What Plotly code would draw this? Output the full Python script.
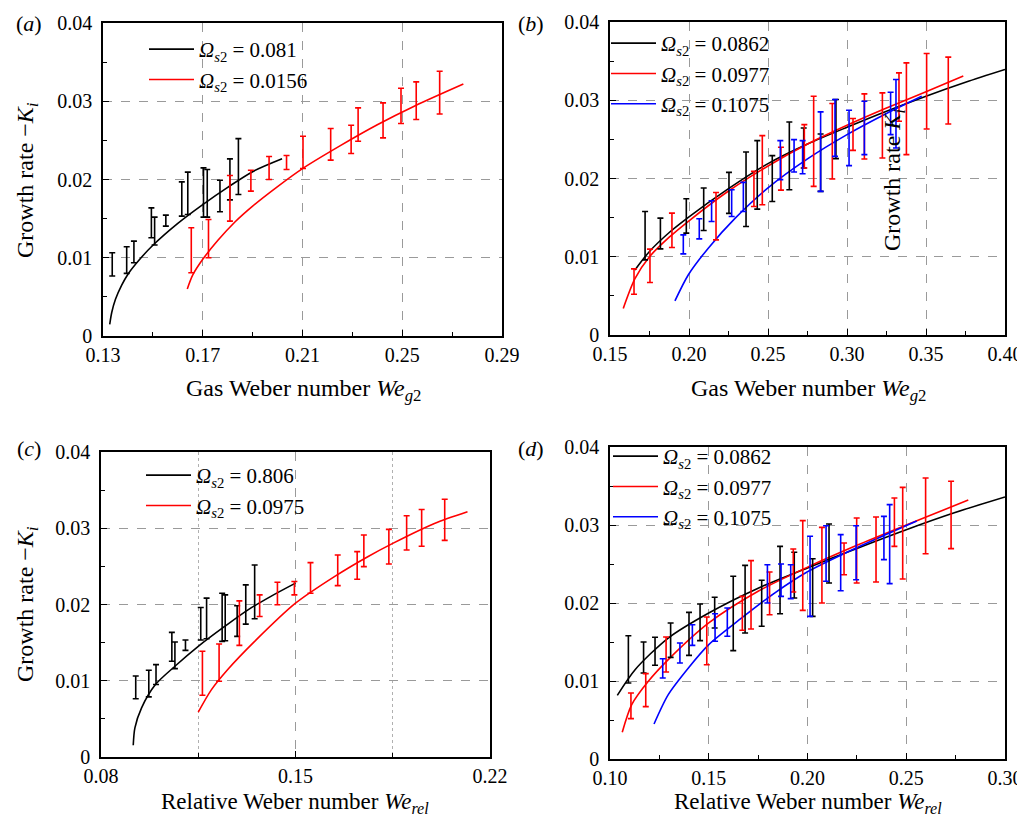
import numpy as np
import plotly.graph_objects as go

FONT = "Liberation Serif, Times New Roman, Tinos, serif"
BLACK, RED, BLUE = "#000000", "#ff0000", "#0000ff"

# ---------------- Panel (a): Gas Weber number, two series ----------------
a_blk_x  = [0.1337, 0.1395, 0.1424, 0.1494, 0.1507, 0.1552, 0.1616, 0.1640, 0.1703, 0.1718, 0.1769, 0.1809, 0.1843]
a_blk_hi = [0.01064, 0.0114, 0.01213, 0.01638, 0.01519, 0.01545, 0.0197, 0.02094, 0.02149, 0.02128, 0.01991, 0.02264, 0.02523]
a_blk_lo = [0.00766, 0.0080, 0.00936, 0.01255, 0.01162, 0.01404, 0.01532, 0.01553, 0.01519, 0.01519, 0.01587, 0.0174, 0.01809]
a_red_x  = [0.1654, 0.1723, 0.1809, 0.1893, 0.1966, 0.2036, 0.2102, 0.2213, 0.2295, 0.2323, 0.2423, 0.2495, 0.2556, 0.2650]
a_red_hi = [0.01383, 0.01489, 0.02051, 0.02119, 0.02294, 0.02306, 0.02553, 0.02651, 0.02694, 0.02915, 0.02979, 0.03166, 0.03247, 0.03383]
a_red_lo = [0.00809, 0.0100, 0.01468, 0.01851, 0.0200, 0.02128, 0.0214, 0.02247, 0.02332, 0.02489, 0.02532, 0.02715, 0.02766, 0.02838]
a_blk_fit_x = [0.1327, 0.1335, 0.1350, 0.1375, 0.1400, 0.1450, 0.1500, 0.1600, 0.1700, 0.1800, 0.1900, 0.2018]
a_blk_fit_y = [0.0015, 0.0030, 0.0047, 0.0065, 0.0079, 0.0099, 0.0116, 0.0144, 0.0168, 0.0190, 0.0210, 0.02264]
a_red_fit_x = [0.1638, 0.1660, 0.1700, 0.1760, 0.1830, 0.1900, 0.2000, 0.2100, 0.2250, 0.2400, 0.2550, 0.2745]
a_red_fit_y = [0.0060, 0.0078, 0.0098, 0.0122, 0.0146, 0.0166, 0.0191, 0.0214, 0.0243, 0.0270, 0.0294, 0.0322]
a_names = ["0.081", "0.0156"]

# ---------------- Panel (b): Gas Weber number, three series ----------------
b_blk_x  = [0.1722, 0.1819, 0.1983, 0.2093, 0.2253, 0.2361, 0.2432, 0.2527, 0.2635, 0.2726, 0.2833, 0.2930]
b_blk_hi = [0.01579, 0.01494, 0.01741, 0.01878, 0.02078, 0.02339, 0.02484, 0.02292, 0.02723, 0.02646, 0.02569, 0.03009]
b_blk_lo = [0.0096, 0.01101, 0.01302, 0.01336, 0.01554, 0.01387, 0.01609, 0.01707, 0.01857, 0.02134, 0.01835, 0.02254]
b_red_x  = [0.1652, 0.1753, 0.1892, 0.2171, 0.2411, 0.2464, 0.2582, 0.2730, 0.2789, 0.2907, 0.3038, 0.3110, 0.3224, 0.3329, 0.3376, 0.3504, 0.3641]
b_red_hi = [0.00845, 0.01097, 0.01558, 0.01822, 0.02091, 0.02548, 0.02399, 0.02689, 0.03052, 0.02958, 0.02766, 0.03082, 0.03094, 0.0335, 0.03478, 0.03598, 0.03551]
b_red_lo = [0.00521, 0.0067, 0.01118, 0.01216, 0.01643, 0.01665, 0.01852, 0.02134, 0.01899, 0.01993, 0.0236, 0.02249, 0.02262, 0.02732, 0.02305, 0.02633, 0.02697]
b_blu_x  = [0.1964, 0.2065, 0.2143, 0.2270, 0.2344, 0.2578, 0.2665, 0.2719, 0.2833, 0.2924, 0.3013, 0.3110, 0.3276, 0.3310]
b_blu_hi = [0.0128, 0.01485, 0.01716, 0.01857, 0.0195, 0.02484, 0.02497, 0.02484, 0.02851, 0.03009, 0.02872, 0.02988, 0.03103, 0.03265]
b_blu_lo = [0.01037, 0.01229, 0.01451, 0.01515, 0.01579, 0.01985, 0.02083, 0.02061, 0.01835, 0.02283, 0.02164, 0.02305, 0.02561, 0.0239]
b_blk_fit_x = [0.1658, 0.1750, 0.1875, 0.2000, 0.2250, 0.2500, 0.2750, 0.3000, 0.3250, 0.3500, 0.3750, 0.4000]
b_blk_fit_y = [0.00832, 0.01068, 0.01310, 0.0151, 0.0187, 0.0219, 0.0244, 0.02655, 0.0286, 0.03052, 0.0323, 0.03393]
b_red_fit_x = [0.1584, 0.1658, 0.1750, 0.1875, 0.2000, 0.2250, 0.2500, 0.2750, 0.3000, 0.3250, 0.3500, 0.3736]
b_red_fit_y = [0.0034, 0.0072, 0.0100, 0.0125, 0.0146, 0.0184, 0.0216, 0.0244, 0.0268, 0.0290, 0.0311, 0.0331]
b_blu_fit_x = [0.1911, 0.1996, 0.2122, 0.2291, 0.2500, 0.2750, 0.3000, 0.3250, 0.3473]
b_blu_fit_y = [0.00435, 0.0077, 0.0111, 0.0149, 0.0188, 0.0225, 0.0256, 0.0283, 0.0305]
b_names = ["0.0862", "0.0977", "0.1075"]

# ---------------- Panel (c): Relative Weber number, two series ----------------
c_blk_x  = [0.0925, 0.0972, 0.0998, 0.1055, 0.1066, 0.1104, 0.1159, 0.1180, 0.1236, 0.1247, 0.1290, 0.1321, 0.1353]
c_blk_hi = [0.01063, 0.01137, 0.01211, 0.01634, 0.01508, 0.01534, 0.01961, 0.02083, 0.02148, 0.02126, 0.01983, 0.02257, 0.02519]
c_blk_lo = [0.00763, 0.00789, 0.0095, 0.01255, 0.01159, 0.01399, 0.01534, 0.01551, 0.01516, 0.01525, 0.01582, 0.01743, 0.01813]
c_red_x  = [0.1165, 0.1225, 0.1298, 0.1371, 0.1435, 0.1496, 0.1554, 0.1652, 0.1722, 0.1746, 0.1836, 0.1900, 0.1954, 0.2037]
c_red_hi = [0.01386, 0.01481, 0.02048, 0.02126, 0.02292, 0.02301, 0.02549, 0.02649, 0.02693, 0.02911, 0.02985, 0.03163, 0.03246, 0.03381]
c_red_lo = [0.0081, 0.00993, 0.01464, 0.01843, 0.01996, 0.02126, 0.02148, 0.02248, 0.02331, 0.02497, 0.02532, 0.02715, 0.02763, 0.02841]
c_blk_fit_x = [0.0916, 0.0922, 0.0946, 0.0996, 0.1066, 0.1150, 0.1245, 0.1329, 0.1413, 0.1500]
c_blk_fit_y = [0.00153, 0.00383, 0.00645, 0.0095, 0.0119, 0.01451, 0.01712, 0.0193, 0.0211, 0.0228]
c_red_fit_x = [0.1150, 0.1197, 0.1257, 0.1353, 0.1500, 0.1640, 0.1760, 0.1850, 0.2000, 0.2119]
c_red_fit_y = [0.00588, 0.0088, 0.0115, 0.01516, 0.02017, 0.02366, 0.02627, 0.02802, 0.03063, 0.03216]
c_names = ["0.806", "0.0975"]

# ---------------- Panel (d): Relative Weber number, three series ----------------
d_blk_x  = [0.1093, 0.1170, 0.1228, 0.1307, 0.1400, 0.1456, 0.1530, 0.1624, 0.1684, 0.1768, 0.1861, 0.1933, 0.2026, 0.2109]
d_blk_hi = [0.01581, 0.015, 0.0156, 0.01744, 0.0188, 0.01987, 0.02073, 0.02342, 0.02483, 0.02291, 0.02726, 0.0265, 0.02568, 0.03013]
d_blk_lo = [0.00974, 0.01103, 0.01201, 0.01303, 0.01329, 0.01517, 0.01679, 0.01389, 0.01615, 0.01701, 0.01863, 0.02064, 0.01829, 0.02256]
d_red_x  = [0.1106, 0.1181, 0.1284, 0.1490, 0.1670, 0.1714, 0.1808, 0.1928, 0.1976, 0.2073, 0.2185, 0.2249, 0.2347, 0.2440, 0.2482, 0.2598, 0.2727]
d_red_hi = [0.00846, 0.01094, 0.01564, 0.0182, 0.02085, 0.02543, 0.02397, 0.02692, 0.03056, 0.0297, 0.02769, 0.0309, 0.03103, 0.03346, 0.03483, 0.03603, 0.0356]
d_red_lo = [0.00517, 0.00671, 0.01115, 0.01209, 0.0165, 0.01667, 0.0185, 0.02141, 0.01906, 0.02, 0.02363, 0.02256, 0.02269, 0.02726, 0.02308, 0.02632, 0.02697]
d_blu_x  = [0.1267, 0.1354, 0.1417, 0.1532, 0.1594, 0.1797, 0.1866, 0.1915, 0.2013, 0.2094, 0.2168, 0.2246, 0.2387, 0.2416]
d_blu_hi = [0.01286, 0.01487, 0.01722, 0.01863, 0.01936, 0.02491, 0.025, 0.02491, 0.02855, 0.02991, 0.02876, 0.02991, 0.03111, 0.03261]
d_blu_lo = [0.01038, 0.01231, 0.01457, 0.01509, 0.01573, 0.02, 0.02085, 0.02056, 0.01829, 0.02278, 0.02158, 0.02299, 0.02556, 0.02248]
d_blk_fit_x = [0.1037, 0.1127, 0.1295, 0.1500, 0.1750, 0.2000, 0.2250, 0.2500, 0.2747, 0.3000]
d_blk_fit_y = [0.00816, 0.01145, 0.01551, 0.01872, 0.0219, 0.0245, 0.0270, 0.0294, 0.0316, 0.0336]
d_red_fit_x = [0.1062, 0.1110, 0.1194, 0.1295, 0.1500, 0.1750, 0.2000, 0.2250, 0.2500, 0.2814]
d_red_fit_y = [0.00342, 0.00697, 0.00996, 0.01274, 0.01744, 0.0215, 0.0246, 0.0274, 0.0300, 0.0332]
d_blu_fit_x = [0.1223, 0.1295, 0.1397, 0.1500, 0.1667, 0.1835, 0.2000, 0.2250, 0.2409, 0.2553]
d_blu_fit_y = [0.00449, 0.00825, 0.01167, 0.01466, 0.01808, 0.0213, 0.0240, 0.0271, 0.0289, 0.0305]
d_names = ["0.0862", "0.0977", "0.1075"]

y_ticks = [0, 0.01, 0.02, 0.03, 0.04]

W, H = 1025, 817
def px_x(p): return p / W
def px_y(p): return 1 - p / H

fig = go.Figure()

def add_errbars(xs, lo, hi, color, ax):
    lo = np.array(lo); hi = np.array(hi)
    mid = (lo + hi) / 2
    half = (hi - lo) / 2
    fig.add_trace(go.Scatter(
        x=xs, y=mid, mode="markers", marker=dict(size=0.1, color=color),
        error_y=dict(type="data", array=half, visible=True, color=color, thickness=1.6, width=3),
        showlegend=False, xaxis="x" + ax, yaxis="y" + ax, hoverinfo="skip"))

def add_fit(xs, ys, color, name, ax, leg):
    fig.add_trace(go.Scatter(
        x=xs, y=ys, mode="lines", line=dict(color=color, width=1.6, shape="spline", smoothing=0.8),
        name="<i>Ω</i><sub><i>s</i>2</sub> = " + name, legend=leg, legendgroup=leg + name,
        xaxis="x" + ax, yaxis="y" + ax))

add_fit(a_blk_fit_x, a_blk_fit_y, BLACK, a_names[0], "", "legend")
add_fit(a_red_fit_x, a_red_fit_y, RED, a_names[1], "", "legend")
add_errbars(a_blk_x, a_blk_lo, a_blk_hi, BLACK, "")
add_errbars(a_red_x, a_red_lo, a_red_hi, RED, "")

add_fit(b_blk_fit_x, b_blk_fit_y, BLACK, b_names[0], "2", "legend2")
add_fit(b_red_fit_x, b_red_fit_y, RED, b_names[1], "2", "legend2")
add_fit(b_blu_fit_x, b_blu_fit_y, BLUE, b_names[2], "2", "legend2")
add_errbars(b_blk_x, b_blk_lo, b_blk_hi, BLACK, "2")
add_errbars(b_red_x, b_red_lo, b_red_hi, RED, "2")
add_errbars(b_blu_x, b_blu_lo, b_blu_hi, BLUE, "2")

add_fit(c_blk_fit_x, c_blk_fit_y, BLACK, c_names[0], "3", "legend3")
add_fit(c_red_fit_x, c_red_fit_y, RED, c_names[1], "3", "legend3")
add_errbars(c_blk_x, c_blk_lo, c_blk_hi, BLACK, "3")
add_errbars(c_red_x, c_red_lo, c_red_hi, RED, "3")

add_fit(d_blk_fit_x, d_blk_fit_y, BLACK, d_names[0], "4", "legend4")
add_fit(d_red_fit_x, d_red_fit_y, RED, d_names[1], "4", "legend4")
add_fit(d_blu_fit_x, d_blu_fit_y, BLUE, d_names[2], "4", "legend4")
add_errbars(d_blk_x, d_blk_lo, d_blk_hi, BLACK, "4")
add_errbars(d_red_x, d_red_lo, d_red_hi, RED, "4")
add_errbars(d_blu_x, d_blu_lo, d_blu_hi, BLUE, "4")

tickfont = dict(family=FONT, size=20, color="black")
def xaxis(domain, rng, tick0, dtick, mdtick, anchor, mgrid=False):
    return dict(domain=domain, range=rng, anchor=anchor, tick0=tick0, dtick=dtick, tickformat=".2f",
                showline=True, linecolor="black", linewidth=1.6, mirror=True,
                ticks="inside", ticklen=6, tickwidth=1, tickcolor="black",
                showgrid=True, gridcolor="#9a9a9a", griddash="dash", gridwidth=1,
                minor=dict(dtick=mdtick, tick0=tick0, ticks="inside", ticklen=4, tickcolor="black",
                           showgrid=mgrid, gridcolor="#b0b0b0", griddash="dot"),
                zeroline=False, tickfont=tickfont, automargin=False)
def yaxis(domain, anchor):
    return dict(domain=domain, range=[0, 0.04], anchor=anchor, tickvals=y_ticks,
                ticktext=["0", "0.01", "0.02", "0.03", "0.04"],
                showline=True, linecolor="black", linewidth=1.6, mirror=True,
                ticks="inside", ticklen=6, tickwidth=1, tickcolor="black",
                showgrid=True, gridcolor="#9a9a9a", griddash="dash", gridwidth=1,
                minor=dict(dtick=0.005, tick0=0, ticks="inside", ticklen=4, tickcolor="black", showgrid=False),
                zeroline=False, tickfont=tickfont, ticklabelstandoff=5, automargin=False)

dom_a_x = [px_x(95), px_x(494)];  dom_a_y = [px_y(328), px_y(15)]
dom_b_x = [px_x(602), px_x(997)]; dom_b_y = [px_y(327), px_y(14)]
dom_c_x = [px_x(93), px_x(482)];  dom_c_y = [px_y(749), px_y(444)]
dom_d_x = [px_x(602), px_x(997)]; dom_d_y = [px_y(751), px_y(439)]

legfont = dict(family=FONT, size=21, color="black")
def legend(xp, yp):
    return dict(x=px_x(xp), y=px_y(yp), xanchor="left", yanchor="top", bgcolor="rgba(0,0,0,0)",
                font=legfont, itemwidth=45, tracegroupgap=0)

fig.update_layout(
    width=W, height=H, margin=dict(l=0, r=0, t=0, b=0, autoexpand=False),
    paper_bgcolor="white", plot_bgcolor="white",
    font=dict(family=FONT, color="black"),
    xaxis=xaxis(dom_a_x, [0.13, 0.29], 0.13, 0.04, 0.02, "y"),
    yaxis=yaxis(dom_a_y, "x"),
    xaxis2=xaxis(dom_b_x, [0.15, 0.40], 0.15, 0.05, 0.025, "y2"),
    yaxis2=yaxis(dom_b_y, "x2"),
    xaxis3=xaxis(dom_c_x, [0.08, 0.22], 0.08, 0.07, 0.035, "y3", mgrid=True),
    yaxis3=yaxis(dom_c_y, "x3"),
    xaxis4=xaxis(dom_d_x, [0.10, 0.30], 0.10, 0.05, 0.025, "y4"),
    yaxis4=yaxis(dom_d_y, "x4"),
    legend=legend(136, 21),
    legend2=legend(598, 15),
    legend3=legend(133, 447),
    legend4=legend(600, 428),
)

ann = []
for xc, yc, txt, fs in [
    (295, 382, "Gas Weber number <i>We</i><sub><i>g</i>2</sub>", 24),
    (800, 382, "Gas Weber number <i>We</i><sub><i>g</i>2</sub>", 24),
    (287, 795, "Relative Weber number <i>We</i><sub><i>rel</i></sub>", 23),
    (800, 795, "Relative Weber number <i>We</i><sub><i>rel</i></sub>", 23),
]:
    ann.append(dict(x=px_x(xc), y=px_y(yc), xref="paper", yref="paper", text=txt, showarrow=False,
                    font=dict(family=FONT, size=fs, color="black"), xanchor="center", yanchor="middle"))
title_font = dict(family=FONT, size=24, color="black")
for yc in [172, 596]:
    ann.append(dict(x=px_x(19), y=px_y(yc), xref="paper", yref="paper",
                    text="Growth rate −<i>K</i><sub><i>i</i></sub>", textangle=-90, showarrow=False,
                    font=title_font, xanchor="center", yanchor="middle"))
for xc, yc, lab in [(21, 16, "(<i>a</i>)"), (523, 16, "(<i>b</i>)"), (21, 440, "(<i>c</i>)"), (523, 440, "(<i>d</i>)")]:
    ann.append(dict(x=px_x(xc), y=px_y(yc), xref="paper", yref="paper", text=lab, showarrow=False,
                    font=dict(family=FONT, size=22, color="black"), xanchor="center", yanchor="middle"))
ann.append(dict(x=px_x(886), y=px_y(172), xref="paper", yref="paper",
                text="Growth rate <i>K</i><sub><i>i</i></sub>", textangle=-90, showarrow=False,
                font=title_font, xanchor="center", yanchor="middle"))
fig.update_layout(annotations=ann)

fig.write_html("out.html")
